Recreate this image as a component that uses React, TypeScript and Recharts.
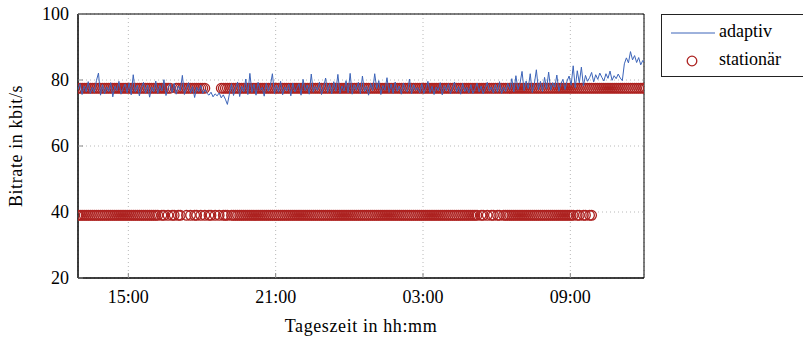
import { ComposedChart, Line, Scatter, XAxis, YAxis, CartesianGrid, ReferenceArea } from 'recharts';

const FONT = 'Liberation Serif, DejaVu Serif, Noto Serif, serif';
const BLUE = '#3c64b9';
const RED = '#ad2220';

// samples every 5 minutes, first one at 12:57
const START_H = 12.95;
const STEP_H = 5 / 60;

const xTicks = [15, 21, 27, 33];
const yTicks = [20, 40, 60, 80, 100];

// adaptiv bitrate (kbit/s), one row per hour
const adaptiv = [
  77.1, 78.9, 75.6, 78.2, 76.4, 79.5, 75.9, 77.8, 76.2, 79.8, 82.1, 75.4,
  78.6, 75.8, 77.9, 76.5, 79.2, 74.9, 78.1, 76.8, 79.6, 75.7, 77.4, 78.8,
  76.1, 79.1, 75.5, 81.6, 76.3, 78.4, 75.2, 77.7, 79.3, 76.0, 78.5, 74.8,
  77.9, 76.4, 79.7, 75.9, 78.3, 76.7, 80.1, 75.3, 77.6, 78.9, 76.2, 79.0,
  75.7, 78.2, 76.8, 81.4, 75.6, 77.3, 79.2, 76.1, 78.0, 74.7, 77.8, 76.5,
  78.4, 75.9, 77.1, 76.0, 75.4, 76.3, 74.9, 75.8, 75.2, 76.1, 74.6, 75.5,
  74.2, 72.6, 75.8, 78.9, 75.3, 77.6, 79.4, 75.0, 78.1, 76.4, 80.3, 75.6,
  82.0, 76.2, 78.7, 75.4, 79.3, 76.9, 77.8, 75.1, 79.0, 76.6, 78.3, 81.9,
  75.8, 78.4, 76.3, 79.6, 75.5, 77.9, 76.7, 78.8, 75.2, 79.1, 76.4, 77.6,
  78.9, 75.4, 80.2, 76.8, 78.5, 75.7, 81.8, 76.3, 78.0, 76.9, 79.4, 75.6,
  77.8, 80.6, 76.2, 78.9, 75.8, 79.5, 76.6, 81.7, 75.9, 78.2, 76.7, 79.8,
  76.1, 82.0, 75.7, 78.6, 76.9, 79.3, 75.8, 81.2, 76.5, 78.1, 75.4, 79.0,
  76.8, 81.9, 77.4, 79.8, 75.6, 78.3, 76.9, 80.7, 76.2, 78.8, 75.9, 79.4,
  76.6, 78.2, 75.7, 79.1, 77.0, 76.4, 80.3, 75.8, 78.6, 76.9, 77.7, 76.1,
  78.9, 75.9, 77.4, 79.6, 76.2, 78.1, 75.6, 77.9, 76.8, 79.2, 75.5, 78.3,
  76.7, 78.9, 75.8, 77.6, 79.4, 76.3, 78.0, 75.7, 79.0, 76.5, 77.8, 76.1,
  78.6, 75.9, 77.3, 79.1, 76.4, 78.2, 75.8, 77.5, 79.3, 76.6, 77.9, 76.0,
  78.7, 76.3, 79.5, 75.9, 77.8, 76.5, 79.0, 77.2, 80.4, 76.4, 81.3, 77.1,
  78.9, 82.6, 76.8, 79.7, 77.4, 81.9, 76.2, 78.8, 83.1, 77.0, 79.6, 76.5,
  80.8, 77.3, 82.4, 76.9, 79.2, 77.8, 81.5, 76.6, 78.9, 80.2, 77.1, 79.7,
  81.2, 78.4, 84.3, 77.6, 82.8, 79.1, 83.9, 78.2, 81.4, 79.6, 80.7, 82.3,
  79.4, 81.6, 80.2, 82.1, 80.8, 79.7, 81.9, 80.5, 82.7, 79.9, 81.3, 80.4,
  81.8, 80.6, 79.8, 84.9, 86.7, 85.2, 88.6, 86.1, 87.4, 85.3, 86.8, 84.6,
  85.9, 85.2,
];

// stationär measurements, same 5-minute grid (null = no measurement at that level)
const H = 77.5;
const L = 39;
const _ = null;

const stationaerHoch = [
  H, H, H, H, H, H, H, H, H, H, H, H,
  H, H, H, H, H, H, H, H, H, H, H, H,
  H, H, H, H, H, H, H, H, H, H, H, H,
  H, H, H, H, H, H, H, H, H, H, _, _,
  H, H, H, H, H, H, H, H, H, H, H, H,
  H, H, H, _, _, _, _, _, _, _, H, H,
  H, H, H, H, H, H, H, H, H, H, H, H,
  H, H, H, H, H, H, H, H, H, H, H, H,
  H, H, H, H, H, H, H, H, H, H, H, H,
  H, H, H, H, H, H, H, H, H, H, H, H,
  H, H, H, H, H, H, H, H, H, H, H, H,
  H, H, H, H, H, H, H, H, H, H, H, H,
  H, H, H, H, H, H, H, H, H, H, H, H,
  H, H, H, H, H, H, H, H, H, H, H, H,
  H, H, H, H, H, H, H, H, H, H, H, H,
  H, H, H, H, H, H, H, H, H, H, H, H,
  H, H, H, H, H, H, H, H, H, H, H, H,
  H, H, H, H, H, H, H, H, H, H, H, H,
  H, H, H, H, H, H, H, H, H, H, H, H,
  H, H, H, H, H, H, H, H, H, H, H, H,
  H, H, H, H, H, H, H, H, H, H, H, H,
  H, H, H, H, H, H, H, H, H, H, H, H,
  H, H, H, H, H, H, H, H, H, H, H, H,
  H, H,
];

const stationaerNiedrig = [
  L, L, L, L, L, L, L, L, L, L, L, L,
  L, L, L, L, L, L, L, L, L, L, L, L,
  L, L, L, L, L, L, L, L, L, L, L, L,
  L, L, L, L, _, L, L, _, L, _, L, L,
  _, L, L, _, _, L, _, L, _, L, L, _,
  L, _, L, _, L, L, _, L, _, L, _, L,
  L, L, _, L, L, L, L, L, L, L, L, L,
  L, L, L, L, L, L, L, L, L, L, L, L,
  L, L, L, L, L, L, L, L, L, L, L, L,
  L, L, L, L, L, L, L, L, L, L, L, L,
  L, L, L, L, L, L, L, L, L, L, L, L,
  L, L, L, L, L, L, L, L, L, L, L, L,
  L, L, L, L, L, L, L, L, L, L, L, L,
  L, L, L, L, L, L, L, L, L, L, L, L,
  L, L, L, L, L, L, L, L, L, L, L, L,
  L, L, L, L, L, L, L, L, L, L, L, L,
  L, L, L, L, _, L, L, _, L, _, L, L,
  _, L, L, _, L, L, L, L, L, L, L, L,
  L, L, L, L, L, L, L, L, L, L, L, L,
  L, L, L, L, L, L, L, L, L, L, L, L,
  L, L, L, _, L, L, _, L, L, _, L, L,
  _, _, _, _, _, _, _, _, _, _, _, _,
  _, _, _, _, _, _, _, _, _, _, _, _,
  _, _,
];

const toPoints = (vals: (number | null)[]) =>
  vals
    .map((v, i) => ({ t: START_H + i * STEP_H, v }))
    .filter((p) => p.v !== null);

const fmtTime = (h: number) => {
  const hh = Math.floor(h) % 24;
  const mm = Math.round((h - Math.floor(h)) * 60);
  return `${String(hh).padStart(2, '0')}:${String(mm).padStart(2, '0')}`;
};

const Ring = (props: any) => (
  <circle cx={props.cx} cy={props.cy} r={4.8} fill="none" stroke={RED} strokeWidth={1.3} />
);

const tickStyle = { fontFamily: FONT, fontSize: 18, fill: '#000' };
const MARGIN = { top: 14, right: 159, bottom: 31, left: 18 };
const X_DOMAIN: [number, number] = [12.95, 36];
const Y_DOMAIN: [number, number] = [20, 100];

export default function App() {
  return (
    <div style={{ position: 'absolute', left: 0, top: 0, width: 803, height: 339, background: '#fff' }}>
      <ComposedChart width={803} height={339} margin={MARGIN}>
        <CartesianGrid stroke="#b8b8b8" strokeDasharray="1 3" />
        <XAxis
          type="number"
          dataKey="t"
          domain={X_DOMAIN}
          allowDataOverflow
          ticks={xTicks}
          tickFormatter={fmtTime}
          height={30}
          tick={tickStyle}
          tickSize={-5}
          tickMargin={17}
          tickLine={{ stroke: '#888' }}
          axisLine={{ stroke: '#000' }}
        />
        <YAxis
          type="number"
          dataKey="v"
          domain={Y_DOMAIN}
          allowDataOverflow
          ticks={yTicks}
          width={60}
          tick={tickStyle}
          tickSize={-5}
          tickMargin={14}
          tickLine={{ stroke: '#888' }}
          axisLine={{ stroke: '#000' }}
        />
        <Scatter data={toPoints(stationaerHoch)} shape={Ring} isAnimationActive={false} />
        <Scatter data={toPoints(stationaerNiedrig)} shape={Ring} isAnimationActive={false} />
        <ReferenceArea x1={X_DOMAIN[0]} x2={X_DOMAIN[1]} y1={20} y2={100} fill="none" stroke="#000" strokeWidth={1} />
      </ComposedChart>

      {/* adaptiv line on top of the rings: same layout, axes invisible */}
      <div style={{ position: 'absolute', left: 0, top: 0 }}>
        <ComposedChart width={803} height={339} margin={MARGIN}>
          <XAxis
            type="number"
            dataKey="t"
            domain={X_DOMAIN}
            allowDataOverflow
            ticks={xTicks}
            height={30}
            tick={false}
            tickLine={false}
            axisLine={false}
          />
          <YAxis
            type="number"
            dataKey="v"
            domain={Y_DOMAIN}
            allowDataOverflow
            ticks={yTicks}
            width={60}
            tick={false}
            tickLine={false}
            axisLine={false}
          />
          <Line
            data={toPoints(adaptiv)}
            dataKey="v"
            stroke={BLUE}
            strokeWidth={1}
            dot={false}
            isAnimationActive={false}
          />
        </ComposedChart>
      </div>

      <div
        style={{
          position: 'absolute',
          left: 16,
          top: 146,
          transform: 'translate(-50%, -50%) rotate(-90deg)',
          fontFamily: FONT,
          fontSize: 18,
          letterSpacing: 0.6,
          whiteSpace: 'nowrap',
        }}
      >
        Bitrate in kbit/s
      </div>
      <div
        style={{
          position: 'absolute',
          left: 361,
          top: 326,
          transform: 'translate(-50%, -50%)',
          fontFamily: FONT,
          fontSize: 18,
          letterSpacing: 0.6,
          whiteSpace: 'nowrap',
        }}
      >
        Tageszeit in hh:mm
      </div>

      <svg style={{ position: 'absolute', left: 661, top: 14 }} width={142} height={64}>
        <rect x={0.5} y={0.5} width={200} height={62} fill="#fff" stroke="#222" />
        <line x1={10} y1={19} x2={54} y2={19} stroke={BLUE} strokeWidth={1} />
        <text x={58} y={23} fontFamily={FONT} fontSize={18}>adaptiv</text>
        <circle cx={31} cy={47} r={4.8} fill="none" stroke={RED} strokeWidth={1.3} />
        <text x={58} y={51} fontFamily={FONT} fontSize={18}>stationär</text>
      </svg>
    </div>
  );
}
